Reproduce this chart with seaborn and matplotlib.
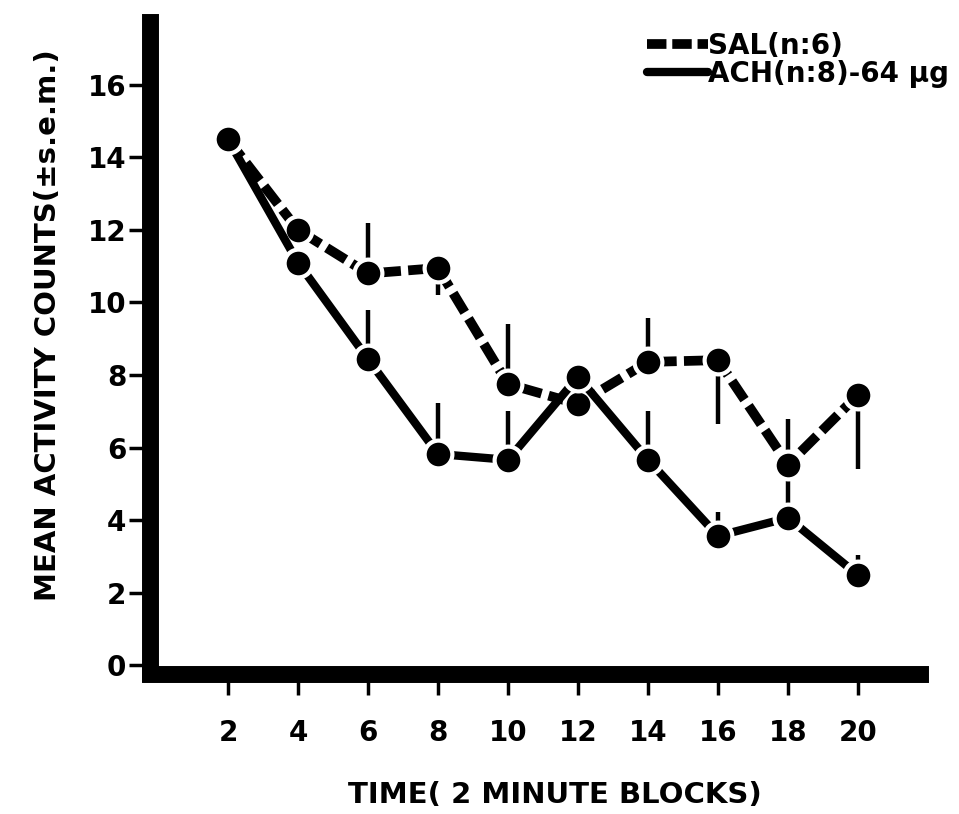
import matplotlib
matplotlib.use("Agg")
import matplotlib.pyplot as plt
from matplotlib.lines import Line2D
import numpy as np
import pandas as pd
import seaborn as sns

# ---- data ----
time = [2, 4, 6, 8, 10, 12, 14, 16, 18, 20]
sal_mean = [14.5, 12.0, 10.8, 10.95, 7.75, 7.2, 8.36, 8.41, 5.53, 7.45]
ach_mean = [14.5, 11.1, 8.44, 5.82, 5.66, 7.95, 5.66, 3.56, 4.06, 2.48]
# one-sided s.e.m. bars (lower, upper)
sal_err_lo = [0, 0, 0, 0.75, 0, 0, 0, 1.75, 0, 2.05]
sal_err_hi = [0, 0, 1.4, 0, 1.65, 0, 1.2, 0, 1.27, 0]
ach_err_lo = [0, 0, 0, 0, 0, 0, 0, 0, 0, 0]
ach_err_hi = [0, 0, 1.35, 1.4, 1.35, 0, 1.35, 0.65, 1.2, 0.55]
x_ticks = [2, 4, 6, 8, 10, 12, 14, 16, 18, 20]
y_ticks = [0, 2, 4, 6, 8, 10, 12, 14, 16]
sal_label = "SAL(n:6)"
ach_label = "ACH(n:8)-64 µg"
x_label = "TIME( 2 MINUTE BLOCKS)"
y_label = "MEAN ACTIVITY COUNTS(±s.e.m.)"

df = pd.DataFrame({
    "time": time * 2,
    "mean": sal_mean + ach_mean,
    "group": ["SAL"] * len(time) + ["ACH"] * len(time),
})

sns.set_theme(style="white")
plt.rcParams["font.family"] = ["DejaVu Sans"]
plt.rcParams["font.weight"] = "bold"
plt.rcParams["text.color"] = "black"
plt.rcParams["xtick.color"] = "black"
plt.rcParams["ytick.color"] = "black"

W, H = 959, 814
fig = plt.figure(figsize=(W / 100, H / 100), dpi=100)

xlim = (-0.243, 21.76)
ylim = (-0.234, 17.74)
ax_left, ax_right = 149.5, 919.6
ax_top, ax_bot = 21.9, 673.5
ax = fig.add_axes([ax_left / W, 1 - ax_bot / H, (ax_right - ax_left) / W, (ax_bot - ax_top) / H])

ms, mew = 20, 3
# error bars first (behind markers)
ax.errorbar(time, sal_mean, yerr=[sal_err_lo, sal_err_hi], fmt="none",
            ecolor="black", elinewidth=3.2, capsize=0, zorder=1)
ax.errorbar(time, ach_mean, yerr=[ach_err_lo, ach_err_hi], fmt="none",
            ecolor="black", elinewidth=3.2, capsize=0, zorder=1)

sns.lineplot(data=df[df.group == "SAL"], x="time", y="mean", ax=ax,
             color="black", linewidth=7, marker="o", markersize=ms,
             markeredgecolor="white", markeredgewidth=mew,
             dashes=(2.3, 0.75), legend=False, zorder=2)
sns.lineplot(data=df[df.group == "ACH"], x="time", y="mean", ax=ax,
             color="black", linewidth=6, marker="o", markersize=ms,
             markeredgecolor="white", markeredgewidth=mew,
             legend=False, zorder=3)

ax.set_xlim(*xlim)
ax.set_ylim(*ylim)
ax.set_xticks(x_ticks)
ax.set_yticks(y_ticks)
ax.set_xticklabels([str(t) for t in x_ticks], fontsize=20, fontweight="bold", color="black")
ax.set_yticklabels([str(t) for t in y_ticks], fontsize=20, fontweight="bold", color="black")
ax.set_xlabel("")
ax.set_ylabel("")

for s in ["top", "right"]:
    ax.spines[s].set_visible(False)
for s in ["left", "bottom"]:
    ax.spines[s].set_visible(True)
    ax.spines[s].set_color("black")
    ax.spines[s].set_linewidth(12.2)
    ax.spines[s].set_capstyle("projecting")

ax.tick_params(axis="both", which="major", bottom=True, left=True,
               direction="out", length=14.8, width=2.5, colors="black")
ax.tick_params(axis="x", pad=18)
ax.tick_params(axis="y", pad=2)
ax.grid(False)

fig.text(555 / W, 1 - 795 / H, x_label, fontsize=21, fontweight="bold",
         ha="center", va="center", color="black")
fig.text(48 / W, 1 - 325 / H, y_label, fontsize=21, fontweight="bold",
         ha="center", va="center", rotation=90, color="black")

handles = [
    Line2D([], [], color="black", linewidth=7, dashes=(2.0, 0.6)),
    Line2D([], [], color="black", linewidth=6),
]
leg = ax.legend(handles, [sal_label, ach_label], loc="upper left",
                bbox_to_anchor=(647 / W, 1 - 32 / H), bbox_transform=fig.transFigure,
                frameon=False, prop={"weight": "bold", "size": 20},
                handlelength=2.2, handletextpad=0.0, labelspacing=0.0,
                borderpad=0, borderaxespad=0)
for t in leg.get_texts():
    t.set_color("black")

fig.savefig("out.png", dpi=100, facecolor="white")
